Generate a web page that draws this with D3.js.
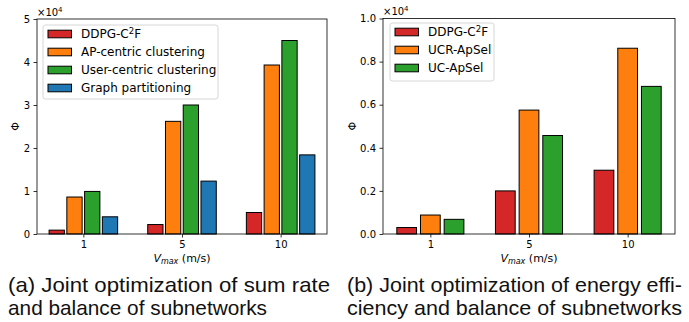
<!DOCTYPE html>
<html><head><meta charset="utf-8">
<script src="https://cdn.jsdelivr.net/npm/d3@7"></script>
<style>body{margin:0;background:#fff}svg{display:block}</style>
</head><body>
<svg id="c" width="689" height="322"></svg>
<script>
const categories = ["1", "5", "10"];
// Panel (a) values in units of 1e4
const seriesA = ["DDPG-C²F", "AP-centric clustering", "User-centric clustering", "Graph partitioning"];
const a_ddpg = [0.09, 0.22, 0.50];
const a_ap = [0.86, 2.62, 3.93];
const a_uc = [0.99, 3.00, 4.50];
const a_gp = [0.40, 1.23, 1.84];
const ticksA = [0, 1, 2, 3, 4, 5];
// Panel (b) values in units of 1e4
const seriesB = ["DDPG-C²F", "UCR-ApSel", "UC-ApSel"];
const b_ddpg = [0.03, 0.20, 0.296];
const b_ucr = [0.088, 0.575, 0.862];
const b_uc = [0.068, 0.457, 0.685];
const ticksB = [0, 0.2, 0.4, 0.6, 0.8, 1.0];
const colors = ["#d62728", "#ff7f0e", "#2ca02c", "#1f77b4"];

const svg = d3.select("#c");
const FONT = "'DejaVu Sans', sans-serif";
const CAPFONT = "'Liberation Sans', Arial, sans-serif";

function panel(o) {
  const g = svg.append("g");
  const x = d3.scaleLinear().domain(o.xdom).range([o.left, o.right]);
  const y = d3.scaleLinear().domain([0, o.ymax]).range([o.bottom, o.top]);
  const n = o.series.length;
  o.series.forEach((name, si) => {
    const off = (si - (n - 1) / 2) * o.step;
    g.selectAll(null).data(o.values[si]).enter().append("rect")
      .attr("x", (d, i) => x(i + off - o.width / 2))
      .attr("width", x(o.width) - x(0))
      .attr("y", d => y(d))
      .attr("height", d => y(0) - y(d))
      .attr("fill", colors[si]).attr("stroke", "#000").attr("stroke-width", 1);
  });
  const ya = d3.axisLeft(y).tickValues(o.ticks).tickFormat(o.fmt).tickSize(3.5).tickPadding(3.5);
  const yg = g.append("g").attr("transform", `translate(${o.left},0)`).call(ya);
  const xa = d3.axisBottom(x).tickValues([0, 1, 2]).tickFormat((d, i) => categories[i]).tickSize(3.5).tickPadding(3.5);
  const xg = g.append("g").attr("transform", `translate(0,${o.bottom})`).call(xa);
  [yg, xg].forEach(a => {
    a.select(".domain").remove();
    a.selectAll("line").attr("stroke", "#000").attr("stroke-width", 0.8);
    a.selectAll("text").attr("font-family", FONT).attr("font-size", 10).attr("fill", "#000");
  });
  g.append("rect").attr("x", o.left).attr("y", o.top).attr("width", o.right - o.left).attr("height", o.bottom - o.top)
    .attr("fill", "none").attr("stroke", "#000").attr("stroke-width", 0.8);
  const m = g.append("text").attr("x", o.left).attr("y", o.top - 3.5).attr("font-family", FONT).attr("font-size", 10);
  m.append("tspan").text("×10");
  m.append("tspan").attr("dy", -4).attr("font-size", 7).text("4");
  g.append("text").attr("transform", `translate(${o.ylx},${(o.top + o.bottom) / 2}) rotate(-90)`)
    .attr("text-anchor", "middle").attr("dominant-baseline", "central").attr("font-family", FONT).attr("font-size", 11).text("Φ");
  const xl = g.append("text").attr("x", x(1)).attr("y", 262).attr("text-anchor", "middle").attr("font-family", FONT).attr("font-size", 11);
  xl.append("tspan").attr("font-style", "italic").text("V");
  xl.append("tspan").attr("font-style", "italic").attr("font-size", 8).attr("dy", 2).text("max");
  xl.append("tspan").attr("dy", -2).text(" (m/s)");
  const lg = g.append("g");
  lg.append("rect").attr("x", o.lx).attr("y", o.ly).attr("width", o.lw).attr("height", o.lh).attr("rx", 2.5)
    .attr("fill", "#fff").attr("fill-opacity", 0.8).attr("stroke", "#ccc").attr("stroke-width", 0.8);
  o.series.forEach((name, si) => {
    const cy = o.ly + 9 + si * 18;
    lg.append("rect").attr("x", o.lx + 5).attr("y", cy - 3.8).attr("width", 23.5).attr("height", 7.6)
      .attr("fill", colors[si]).attr("stroke", "#000").attr("stroke-width", 1);
    const t = lg.append("text").attr("x", o.lx + 38).attr("y", cy + 4.3).attr("font-family", FONT).attr("font-size", 12);
    if (name.includes("²")) {
      const [pre, post] = name.split("²");
      t.append("tspan").text(pre);
      t.append("tspan").attr("font-size", 8.5).attr("dy", -4.5).text("2");
      t.append("tspan").attr("dy", 4.5).text(post);
    } else t.text(name);
  });
  o.caption.forEach((line, li) => {
    const t = g.append("text").attr("x", o.capx).attr("y", 291.5 + li * 23)
      .attr("font-family", CAPFONT).attr("font-size", 21).attr("fill", "#111").text(line.text);
    if (line.len) t.attr("textLength", line.len).attr("lengthAdjust", "spacingAndGlyphs");
  });
}

panel({
  left: 37, right: 327, top: 19, bottom: 234, xdom: [-0.47, 2.47], ymax: 5,
  series: seriesA, values: [a_ddpg, a_ap, a_uc, a_gp], step: 0.18, width: 0.155,
  ticks: ticksA, fmt: d3.format("d"), ylx: 15,
  lx: 43, ly: 25, lw: 175, lh: 74,
  capx: 8, caption: [{text: "(a) Joint optimization of sum rate", len: 322}, {text: "and balance of subnetworks", len: 259}]
});
panel({
  left: 383, right: 675, top: 18.5, bottom: 234, xdom: [-0.48, 2.48], ymax: 1.0,
  series: seriesB, values: [b_ddpg, b_ucr, b_uc], step: 0.24, width: 0.2,
  ticks: ticksB, fmt: d3.format(".1f"), ylx: 352,
  lx: 390, ly: 23, lw: 104, lh: 58,
  capx: 347, caption: [{text: "(b) Joint optimization of energy effi-", len: 335}, {text: "ciency and balance of subnetworks", len: 335}]
});
</script>
</body></html>
